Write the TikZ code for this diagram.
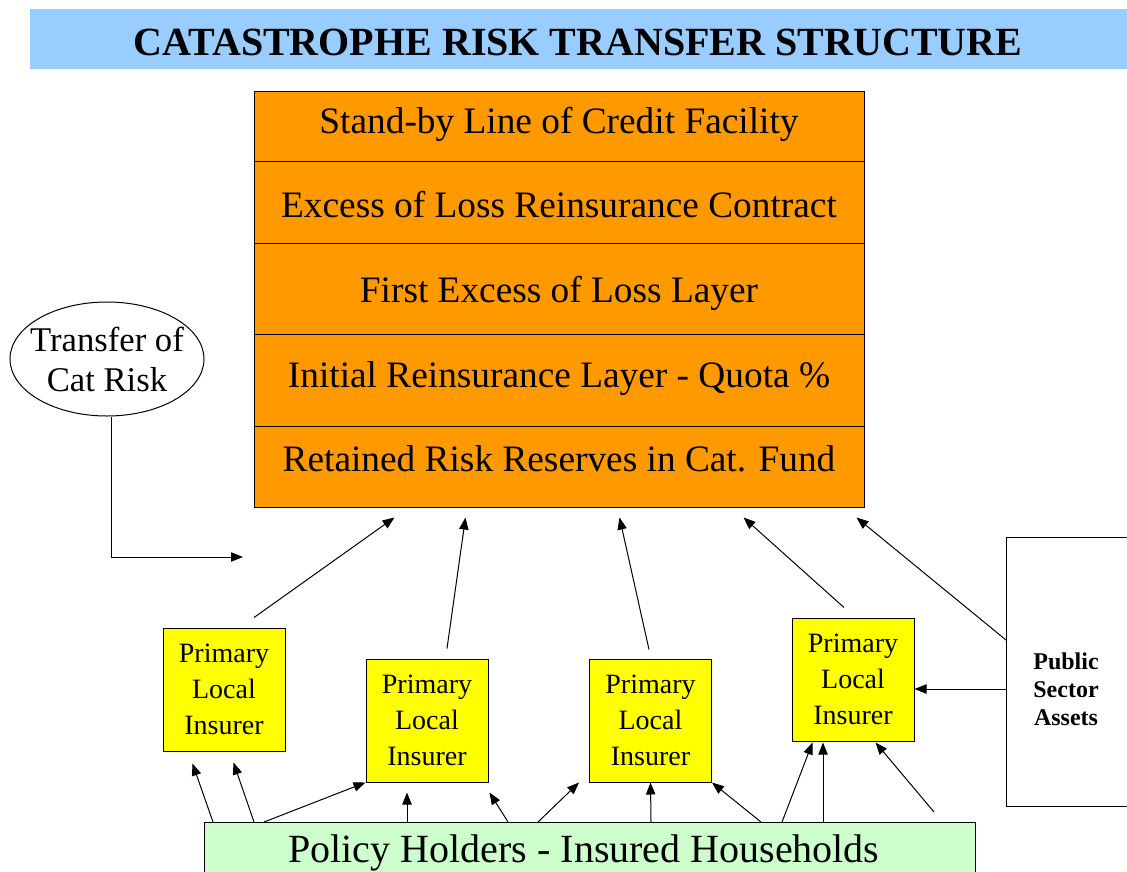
\documentclass[tikz,border=0pt]{standalone}
\usepackage{fontspec}
\setmainfont{Liberation Serif}
\usetikzlibrary{arrows.meta,shapes.geometric,calc}
\definecolor{titleblue}{RGB}{153,204,255}
\definecolor{layerorange}{RGB}{255,153,0}
\definecolor{insureryellow}{RGB}{255,255,0}
\definecolor{holdergreen}{RGB}{204,255,204}
\tikzset{every picture/.style={line width=0.75pt}}

\begin{document}
\begin{tikzpicture}[x=0.75pt,y=0.75pt,yscale=-1,xscale=1,
    layer/.style={anchor=base, inner sep=0pt, font=\fontsize{28}{34}\selectfont},
    insurer/.style={draw, fill=insureryellow, minimum width=91.5pt, minimum height=92.25pt, inner sep=0pt, align=center, font=\fontsize{21}{27}\selectfont},
    arr/.style={-{Triangle[length=9pt,width=7pt]}}]
    \useasboundingbox (0,0) rectangle (1127,871);
    \clip (0,0) rectangle (1127,871);
    % Title band
    \fill [titleblue] (30,9) rectangle (1135,69);
    \node [anchor=base, inner sep=0pt, font=\fontsize{30}{36}\selectfont\bfseries] (title) at (578,55) {CATASTROPHE RISK TRANSFER STRUCTURE};
    % Layer stack
    \node [draw, fill=layerorange, minimum width=457.5pt, minimum height=312pt, inner sep=0pt] (stack) at (559,299) {};
    \foreach \y in {161,243,334,426}
        \draw (stack.west |- 0,\y) -- (stack.east |- 0,\y);
    \node [layer] (row1) at (559,133) {Stand-by Line of Credit Facility};
    \node [layer] (row2) at (559,217) {Excess of Loss Reinsurance Contract};
    \node [layer] (row3) at (559,302) {First Excess of Loss Layer};
    \node [layer] (row4) at (559,387) {Initial Reinsurance Layer - Quota \%};
    \node [layer] (row5) at (559,471) {Retained Risk Reserves in Cat. Fund};
    % Transfer of cat risk
    \node [draw, ellipse, minimum width=145.5pt, minimum height=85.5pt, inner sep=0pt] (cat) at (107,359) {};
    \node [align=center, inner sep=0pt, font=\fontsize{26}{30}\selectfont] (cattext) at (107,359) {Transfer of\\Cat Risk};
    \coordinate (catend) at (243,557);
    \draw [arr] ([xshift=3pt]cat.south) |- (catend);
    % Primary local insurers
    \node [insurer] (ins1) at (224,689.5) {Primary\\Local\\Insurer};
    \node [insurer] (ins2) at (427,720.5) {Primary\\Local\\Insurer};
    \node [insurer] (ins3) at (650.5,720.5) {Primary\\Local\\Insurer};
    \node [insurer] (ins4) at (853,679.5) {Primary\\Local\\Insurer};
    % Public sector assets
    \node [draw, fill=white, minimum width=93pt, minimum height=201.75pt, inner sep=0pt, anchor=north west] (pub) at (1006,537) {};
    \node [align=center, inner sep=0pt, font=\fontsize{18}{21}\selectfont\bfseries] (pubtext) at (1066,689) {Public\\Sector\\Assets};
    % Policy holders
    \node [draw, fill=holdergreen, minimum width=578.25pt, minimum height=60pt, inner sep=0pt, anchor=north west] (holders) at (204,822) {};
    \node [anchor=base, inner sep=0pt, font=\fontsize{30}{36}\selectfont] (holderstext) at (584,862) {Policy Holders - Insured Households};
    % Insurers to the layers
    \draw [arr] ($(ins1.north)+(30,-10)$) -- ($(stack.south west)+(141,10)$);
    \draw [arr] ($(ins2.north)+(20,-10)$) -- ($(stack.south west)+(212,10)$);
    \draw [arr] ($(ins3.north)+(-1.5,-9)$) -- ($(stack.south west)+(366,10)$);
    \draw [arr] ($(ins4.north)+(-9,-10)$) -- ($(stack.south west)+(490,10)$);
    \draw [arr] ($(pub.north west)+(0,103)$) -- ($(stack.south east)+(-8,10)$);
    \draw [arr] ($(pub.north west)+(0,152)$) -- ($(ins4.east)+(0,9.5)$);
    % Holders to the insurers
    \draw [arr] ($(holders.north west)+(9,0)$) -- ($(ins1.south west)+(30,12)$);
    \draw [arr] ($(holders.north west)+(50,0)$) -- ($(ins1.south west)+(71,11)$);
    \draw [arr] ($(holders.north west)+(60,0)$) -- (ins2.south west);
    \draw [arr] ($(holders.north west)+(203,0)$) -- ($(ins2.south)+(-20,10)$);
    \draw [arr] ($(holders.north west)+(304,0)$) -- ($(ins2.south east)+(1,10)$);
    \draw [arr] ($(holders.north west)+(334,0)$) -- ($(ins3.south west)+(-10,0)$);
    \draw [arr] ($(holders.north west)+(447,0)$) -- (ins3.south);
    \draw [arr] ($(holders.north west)+(557,0)$) -- (ins3.south east);
    \draw [arr] ($(holders.north west)+(578,0)$) -- ($(ins4.south west)+(21,1)$);
    \draw [arr] ($(holders.north west)+(619,0)$) -- ($(ins4.south)+(-30,1)$);
    \draw [arr] ($(holders.north west)+(730,-10)$) -- ($(ins4.south east)+(-39,1)$);
\end{tikzpicture}
\end{document}
